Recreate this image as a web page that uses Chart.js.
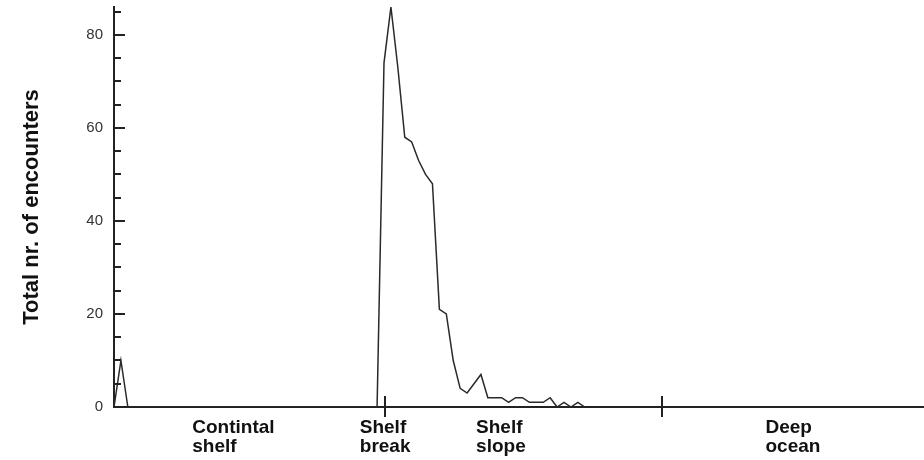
<!DOCTYPE html>
<html>
<head>
<meta charset="utf-8">
<script src="https://cdn.jsdelivr.net/npm/chart.js@4/dist/chart.umd.min.js"></script>
<style>
  html, body { margin: 0; padding: 0; background: #ffffff; }
  #c { display: block; }
</style>
</head>
<body>
<canvas id="c" width="924" height="460"></canvas>
<script>
// ---- Data ----
// Total number of encounters per distance bin (bin index along the transect)
const encounterCounts = [
  0, 10, 0, 0, 0, 0, 0, 0, 0, 0,
  0, 0, 0, 0, 0, 0, 0, 0, 0, 0,
  0, 0, 0, 0, 0, 0, 0, 0, 0, 0,
  0, 0, 0, 0, 0, 0, 0, 0, 0, 74,
  86, 73, 58, 57, 53, 50, 48, 21, 20, 10,
  4, 3, 5, 7, 2, 2, 2, 1, 2, 2,
  1, 1, 1, 2, 0, 1, 0, 1, 0
];
// Zone labels along the x axis and the bin positions where they start
const zoneLabels = [
  ["Contintal", "shelf"],
  ["Shelf", "break"],
  ["Shelf", "slope"],
  ["Deep", "ocean"]
];
const zoneLabelPositions = [11.3, 35.5, 52.3, 94.1];
// Zone boundary tick marks on the x axis (bin positions)
const zoneBoundaries = [39.2, 79.2];
// Y axis ticks
const yMajorTicks = [0, 20, 40, 60, 80];
const yMinorTicks = [0, 5, 10, 15, 20, 25, 30, 35, 40, 45, 50, 55, 60, 65, 70, 75, 80, 85];
const xRange = [0, 117];
const yRange = [0, 86];

const points = encounterCounts.map((v, i) => ({ x: i, y: v }));

const axisColor = '#222222';

const tickPlugin = {
  id: 'customTicks',
  afterDraw(chart) {
    const ctx = chart.ctx;
    const xs = chart.scales.x;
    const ys = chart.scales.y;
    const area = chart.chartArea;
    ctx.save();
    ctx.strokeStyle = axisColor;
    ctx.lineWidth = 2;
    ctx.beginPath();
    yMinorTicks.forEach(v => {
      const py = Math.round(ys.getPixelForValue(v));
      const len = yMajorTicks.includes(v) ? 11 : 7;
      ctx.moveTo(area.left, py);
      ctx.lineTo(area.left + len, py);
    });
    zoneBoundaries.forEach(v => {
      const px = Math.round(xs.getPixelForValue(v));
      ctx.moveTo(px, area.bottom - 11);
      ctx.lineTo(px, area.bottom + 10);
    });
    ctx.stroke();
    ctx.restore();
  }
};

new Chart(document.getElementById('c'), {
  type: 'line',
  data: {
    datasets: [{
      data: points,
      borderColor: '#2a2a2a',
      borderWidth: 1.5,
      pointRadius: 0,
      tension: 0,
      fill: false
    }]
  },
  options: {
    responsive: false,
    animation: false,
    devicePixelRatio: 1,
    layout: { padding: { top: 7, right: 0, bottom: 0, left: 0 } },
    plugins: {
      legend: { display: false },
      tooltip: { enabled: false }
    },
    scales: {
      x: {
        type: 'linear',
        min: xRange[0],
        max: xRange[1],
        afterBuildTicks(scale) {
          scale.ticks = zoneLabelPositions.map(v => ({ value: v }));
        },
        afterFit(scale) {
          scale.height = 53;
          scale.paddingLeft = 0;
          scale.paddingRight = 0;
        },
        grid: { display: false, drawTicks: false },
        border: { display: true, color: axisColor, width: 2 },
        ticks: {
          autoSkip: false,
          maxRotation: 0,
          minRotation: 0,
          align: 'start',
          padding: 11,
          color: '#111111',
          font: { family: '"Liberation Sans", Arial, sans-serif', size: 19, weight: 'bold', lineHeight: 1.0 },
          callback: (value, index) => zoneLabels[index]
        }
      },
      y: {
        type: 'linear',
        min: yRange[0],
        max: yRange[1],
        afterBuildTicks(scale) {
          scale.ticks = yMajorTicks.map(v => ({ value: v }));
        },
        afterFit(scale) {
          scale.width = 114;
          scale.paddingTop = 0;
          scale.paddingBottom = 0;
        },
        grid: { display: false, drawTicks: false },
        border: { display: true, color: axisColor, width: 2 },
        ticks: {
          padding: 11,
          color: '#333333',
          font: { family: '"Liberation Sans", Arial, sans-serif', size: 15 }
        },
        title: {
          display: true,
          text: 'Total nr. of encounters',
          color: '#111111',
          padding: { top: 19, bottom: 0 },
          font: { family: '"Liberation Sans", Arial, sans-serif', size: 22, weight: 'bold', lineHeight: 1.2 }
        }
      }
    }
  },
  plugins: [tickPlugin]
});
</script>
</body>
</html>
